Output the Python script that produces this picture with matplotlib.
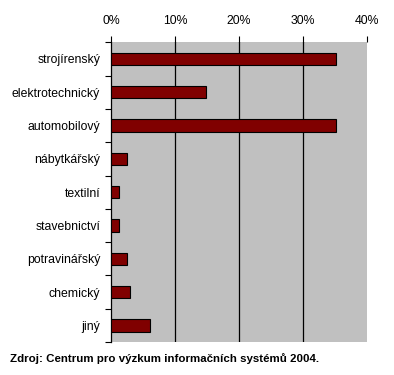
import matplotlib
matplotlib.use("Agg")
import matplotlib.pyplot as plt
from matplotlib.ticker import PercentFormatter, FixedLocator

categories = ["strojírenský", "elektrotechnický", "automobilový", "nábytkářský",
              "textilní", "stavebnictví", "potravinářský", "chemický", "jiný"]
values = [35.2, 14.9, 35.2, 2.4, 1.25, 1.25, 2.4, 3.0, 6.0]
xticks = [0, 10, 20, 30, 40]
source = "Zdroj: Centrum pro výzkum informačních systémů 2004."

plt.rcParams['font.family'] = ['Liberation Sans', 'DejaVu Sans']

fig = plt.figure(figsize=(3.94, 3.75), dpi=100)
W, H = 394, 375
ax = fig.add_axes([111.3 / W, 1 - 342 / H, (366.7 - 111.3) / W, (342 - 42.3) / H])
ax.set_facecolor("#c0c0c0")

ypos = list(range(len(categories)))
ax.barh(ypos, values, height=0.37, color="#800000", edgecolor="black", linewidth=0.8, zorder=3)
ax.set_xlim(0, 40)
ax.set_ylim(len(categories) - 0.5, -0.5)

ax.xaxis.tick_top()
ax.set_xticks(xticks)
ax.xaxis.set_major_formatter(PercentFormatter(decimals=0))
ax.tick_params(axis="x", direction="out", length=4, width=0.8, labelsize=8.8, pad=7, colors="black")
for x in xticks[1:-1]:
    ax.axvline(x, color="black", linewidth=0.9, zorder=2)

ax.set_yticks(ypos)
ax.set_yticklabels(categories)
ax.yaxis.set_minor_locator(FixedLocator([i - 0.5 for i in range(len(categories) + 1)]))
ax.tick_params(axis="y", which="major", length=0, labelsize=8.8, pad=8)
ax.tick_params(axis="y", which="minor", direction="out", length=4, width=0.8)

for s in ["right", "bottom", "top"]:
    ax.spines[s].set_visible(False)
ax.spines["left"].set_linewidth(0.9)

fig.text(10 / W, 1 - 359 / H, source, fontsize=8.25, fontweight="bold", va="center", ha="left")

fig.savefig("out.png", dpi=100)
